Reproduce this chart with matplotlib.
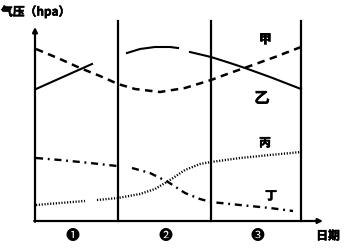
import numpy as np
import matplotlib
matplotlib.use("Agg")
import matplotlib.pyplot as plt
import matplotlib.patheffects as pe

plt.rcParams['font.family'] = ['Noto Sans CJK SC', 'DejaVu Sans']

# curve values (x: position along date axis, y: pressure height above x-axis)
jia_x = [1, 25, 45, 65, 83, 100, 125, 150, 176, 195, 215, 240, 266]
jia_y = [172, 162, 153, 145, 137, 132, 129, 133, 141, 148, 155, 164, 174]

yi_x = [1, 57, np.nan, 92, 105, 120, 135, 143, np.nan, 155, 176, 195, 210, 235, 266]
yi_y = [132, 157, np.nan, 168, 172, 174, 174, 173, np.nan, 169, 164, 158, 153, 144, 132]

bing_x = [1, 25, 50, np.nan, 62, 83, 105, 120, 135, 150, 165, 176, 205, 235, 266]
bing_y = [16, 18, 20, np.nan, 21, 23, 27, 32, 41, 51, 57, 59, 63, 66, 69]

ding_x = [1, 25, 55, 82, np.nan, 97, 115, 133, 150, 165, 176, 205, 235, 258]
ding_y = [63, 61, 58, 55, np.nan, 53, 48, 39, 28, 22, 19, 16, 13, 10]

dividers = [83, 176, 266]
period_labels = ['❶', '❷', '❸']
period_pos = [37, 130, 222]

fig = plt.figure(figsize=(3.47, 2.49), dpi=100)
ax = fig.add_axes([0, 0, 1, 1])
ax.set_xlim(-35, 312)
ax.set_ylim(-28, 221)
ax.axis('off')

ax.plot(jia_x, jia_y, color='black', lw=1.8, ls=(0, (3, 2.2)))
ax.plot(yi_x, yi_y, color='black', lw=1.5)
ax.plot(bing_x, bing_y, color='black', lw=1.7, ls=(0, (0.5, 0.7)))
ax.plot(ding_x, ding_y, color='black', lw=1.7, ls=(0, (3, 2, 0.8, 2)))

for d in dividers:
    ax.plot([d, d], [0, 200], color='black', lw=1.6)

# axes with arrows
ax.annotate('', xy=(0, 194), xytext=(0, -0.8),
            arrowprops=dict(arrowstyle='-|>', color='black', lw=1.6,
                            mutation_scale=7, shrinkA=0, shrinkB=0))
ax.annotate('', xy=(288, 0), xytext=(-0.8, 0),
            arrowprops=dict(arrowstyle='-|>', color='black', lw=1.6,
                            mutation_scale=7, shrinkA=0, shrinkB=0))

bold = [pe.withStroke(linewidth=0.4, foreground='black')]
ax.text(-34, 209, '气压（hpa）', fontsize=8.5, fontweight='bold', va='center', ha='left',
        path_effects=bold)
ax.text(230, 182, '甲', fontsize=8.5, fontweight='bold', ha='center', va='center', path_effects=bold)
ax.text(227, 123, '乙', fontsize=11, fontweight='bold', ha='center', va='center', path_effects=bold)
ax.text(230, 78, '丙', fontsize=8.5, fontweight='bold', ha='center', va='center', path_effects=bold)
ax.text(236, 25, '丁', fontsize=8.5, fontweight='bold', ha='center', va='center', path_effects=bold)
for lab, px in zip(period_labels, period_pos):
    ax.text(px, -15, lab, fontsize=10, ha='center', va='center')
ax.text(293, -15, '日期', fontsize=8.5, fontweight='bold', ha='center', va='center',
        path_effects=bold)

fig.savefig('out.png', dpi=100)
